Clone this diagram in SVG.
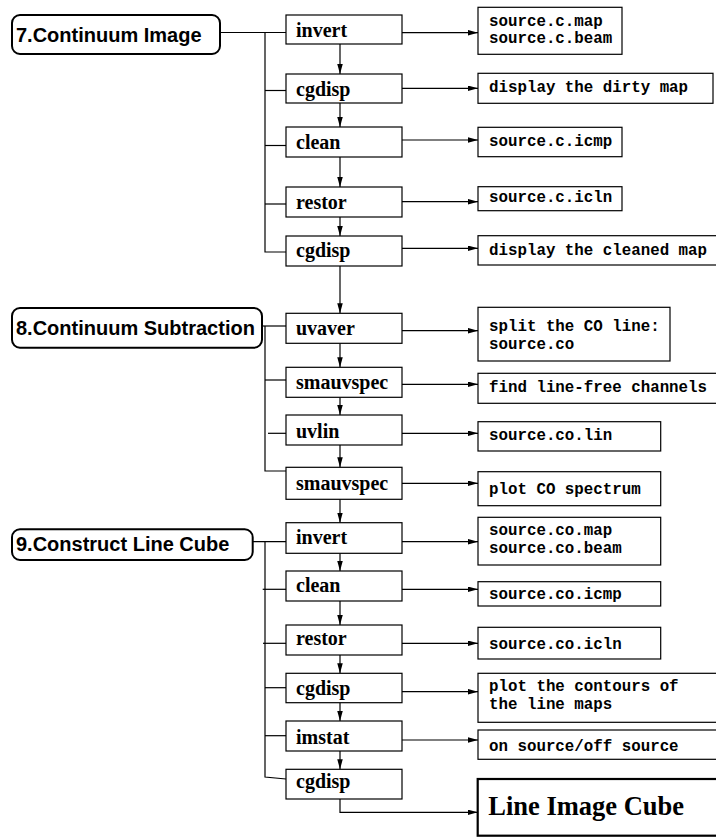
<svg xmlns="http://www.w3.org/2000/svg" width="716" height="837" viewBox="0 0 716 837">
<style>
.bg{fill:#fff}
.sec{fill:#fff;stroke:#000;stroke-width:2}
.sect{font-family:"Liberation Sans",Arial,sans-serif;font-weight:bold;font-size:20px;fill:#000}
.node{fill:#fff;stroke:#000;stroke-width:1.2}
.nt{font-family:"Liberation Serif","Times New Roman",serif;font-weight:bold;font-size:20px;fill:#000}
.res{fill:#fff;stroke:#000;stroke-width:1.2}
.rt{font-family:"Liberation Mono","Courier New",monospace;font-weight:bold;font-size:15.8px;fill:#000}
.fin{fill:#fff;stroke:#000;stroke-width:2.2}
.ft{font-family:"Liberation Serif","Times New Roman",serif;font-weight:bold;font-size:26.5px;fill:#000}
.c{fill:none;stroke:#000;stroke-width:1.2}
.a{fill:none;stroke:#000;stroke-width:1.2;marker-end:url(#ah)}
</style>
<defs>
<marker id="ah" markerUnits="userSpaceOnUse" markerWidth="11" markerHeight="6" refX="10" refY="2.75" orient="auto">
<path d="M0,0 L10,2.75 L0,5.5 z" fill="#000"/>
</marker>
</defs>
<rect class="bg" x="0" y="0" width="716" height="837"/>

<g id="connectors">
<!-- section 7 bus -->
<path class="c" d="M220,32.5 H286"/>
<path class="c" d="M265,32.5 V252 H286"/>
<path class="c" d="M265,90.5 H286"/>
<path class="c" d="M265,145.5 H286"/>
<path class="c" d="M265,204 H286"/>
<!-- section 8 bus -->
<path class="c" d="M262,326 H286"/>
<path class="c" d="M265,326 V471 H286"/>
<path class="c" d="M265,380 H286"/>
<path class="c" d="M268,433.3 H295"/>
<!-- section 9 bus -->
<path class="c" d="M252.7,541.7 H286"/>
<path class="c" d="M265,541.7 V777 L286,779"/>
<path class="c" d="M262.7,589.3 H286"/>
<path class="c" d="M263,643.3 H286"/>
<path class="c" d="M265,687.7 H286"/>
<path class="c" d="M265,735.7 H286"/>
<!-- vertical flow -->
<path class="a" d="M340,44 V74"/>
<path class="a" d="M340,103 V127"/>
<path class="a" d="M340,157 V187"/>
<path class="a" d="M340,217 V236"/>
<path class="a" d="M340,266 V313.3"/>
<path class="a" d="M340,343.3 V367.3"/>
<path class="a" d="M340,397.3 V415"/>
<path class="a" d="M340,445 V467.3"/>
<path class="a" d="M340,499.3 V522.7"/>
<path class="a" d="M340,553.3 V571"/>
<path class="a" d="M340,601 V625"/>
<path class="a" d="M340,655 V673.3"/>
<path class="a" d="M340,702.7 V721"/>
<path class="a" d="M340,751 V769.3"/>
<path class="a" d="M340,799 V812.3 H477.7"/>
<!-- outputs -->
<path class="a" d="M402,32.7 H478"/>
<path class="a" d="M402,88.3 H478"/>
<path class="a" d="M402,140 H478"/>
<path class="a" d="M402,201.7 H478"/>
<path class="a" d="M402,248.3 H478"/>
<path class="a" d="M402,330.7 H478"/>
<path class="a" d="M402,384.3 H478"/>
<path class="a" d="M402,433.3 H478"/>
<path class="a" d="M402,483.3 H478"/>
<path class="a" d="M402,541.7 H478"/>
<path class="a" d="M402,589.3 H478"/>
<path class="a" d="M402,643.3 H478"/>
<path class="a" d="M402,691.7 H478"/>
<path class="a" d="M402,740 H478"/>
</g>

<g id="sec7"><rect class="sec" x="12" y="15" width="208" height="39" rx="8"/><text class="sect" x="16" y="42">7.Continuum Image</text></g>
<g id="sec8"><rect class="sec" x="12" y="308" width="250" height="39.7" rx="8"/><text class="sect" x="16" y="335">8.Continuum Subtraction</text></g>
<g id="sec9"><rect class="sec" x="12" y="529.3" width="240.7" height="30.7" rx="8"/><text class="sect" x="16" y="551">9.Construct Line Cube</text></g>

<g id="n7-invert"><rect class="node" x="286" y="15" width="116" height="29"/><text class="nt" x="296" y="37">invert</text></g>
<g id="n7-cgdisp1"><rect class="node" x="286" y="74" width="116" height="29"/><text class="nt" x="296" y="96">cgdisp</text></g>
<g id="n7-clean"><rect class="node" x="286" y="127" width="116" height="30"/><text class="nt" x="296" y="149">clean</text></g>
<g id="n7-restor"><rect class="node" x="286" y="187" width="116" height="30"/><text class="nt" x="296" y="209">restor</text></g>
<g id="n7-cgdisp2"><rect class="node" x="286" y="236" width="116" height="30"/><text class="nt" x="296" y="257">cgdisp</text></g>

<g id="n8-uvaver"><rect class="node" x="286" y="313.3" width="116" height="30"/><text class="nt" x="296" y="335">uvaver</text></g>
<g id="n8-smauvspec1"><rect class="node" x="286" y="367.3" width="116" height="30"/><text class="nt" x="296" y="389">smauvspec</text></g>
<g id="n8-uvlin"><rect class="node" x="286" y="415" width="116" height="30"/><text class="nt" x="296" y="438">uvlin</text></g>
<g id="n8-smauvspec2"><rect class="node" x="286" y="467.3" width="116" height="32"/><text class="nt" x="296" y="490">smauvspec</text></g>

<g id="n9-invert"><rect class="node" x="286" y="522.7" width="116" height="30.6"/><text class="nt" x="296" y="544">invert</text></g>
<g id="n9-clean"><rect class="node" x="286" y="571" width="116" height="30"/><text class="nt" x="296" y="592">clean</text></g>
<g id="n9-restor"><rect class="node" x="286" y="625" width="116" height="30"/><text class="nt" x="296" y="645">restor</text></g>
<g id="n9-cgdisp1"><rect class="node" x="286" y="673.3" width="116" height="29.4"/><text class="nt" x="296" y="695">cgdisp</text></g>
<g id="n9-imstat"><rect class="node" x="286" y="721" width="116" height="30"/><text class="nt" x="296" y="744">imstat</text></g>
<g id="n9-cgdisp2"><rect class="node" x="286" y="769.3" width="116" height="29.7"/><text class="nt" x="296" y="788">cgdisp</text></g>

<g id="r-cmap"><rect class="res" x="478" y="7.3" width="144" height="47"/><text class="rt" x="489" y="26">source.c.map</text><text class="rt" x="489" y="43">source.c.beam</text></g>
<g id="r-dirty"><rect class="res" x="478" y="73.3" width="235" height="30"/><text class="rt" x="489" y="92">display the dirty map</text></g>
<g id="r-cicmp"><rect class="res" x="478" y="127.3" width="144" height="29.4"/><text class="rt" x="489" y="146">source.c.icmp</text></g>
<g id="r-cicln"><rect class="res" x="478" y="186.7" width="144" height="24"/><text class="rt" x="489" y="202">source.c.icln</text></g>
<g id="r-cleaned"><rect class="res" x="478" y="235.7" width="240" height="29.3"/><text class="rt" x="489" y="255">display the cleaned map</text></g>

<g id="r-split"><rect class="res" x="478" y="307.3" width="192" height="53.7"/><text class="rt" x="489" y="331">split the CO line:</text><text class="rt" x="489" y="349">source.co</text></g>
<g id="r-find"><rect class="res" x="478" y="373.3" width="240" height="30"/><text class="rt" x="489" y="392">find line-free channels</text></g>
<g id="r-colin"><rect class="res" x="478" y="421.7" width="182.7" height="29.3"/><text class="rt" x="489" y="440">source.co.lin</text></g>
<g id="r-plotco"><rect class="res" x="478" y="471.7" width="182.7" height="34"/><text class="rt" x="489" y="494">plot CO spectrum</text></g>

<g id="r-comap"><rect class="res" x="478" y="517.3" width="182.7" height="47.7"/><text class="rt" x="489" y="535">source.co.map</text><text class="rt" x="489" y="553">source.co.beam</text></g>
<g id="r-coicmp"><rect class="res" x="478" y="581.7" width="182.7" height="24.3"/><text class="rt" x="489" y="599">source.co.icmp</text></g>
<g id="r-coicln"><rect class="res" x="478" y="627.3" width="182.7" height="31.7"/><text class="rt" x="489" y="649">source.co.icln</text></g>
<g id="r-contours"><rect class="res" x="478" y="673.3" width="240" height="49"/><text class="rt" x="489" y="691">plot the contours of</text><text class="rt" x="489" y="709">the line maps</text></g>
<g id="r-onoff"><rect class="res" x="478" y="730" width="240" height="29.3"/><text class="rt" x="489" y="751">on source/off source</text></g>

<g id="final"><rect class="fin" x="477.7" y="779" width="245" height="56.7"/><text class="ft" x="488.3" y="815">Line Image Cube</text></g>
</svg>
